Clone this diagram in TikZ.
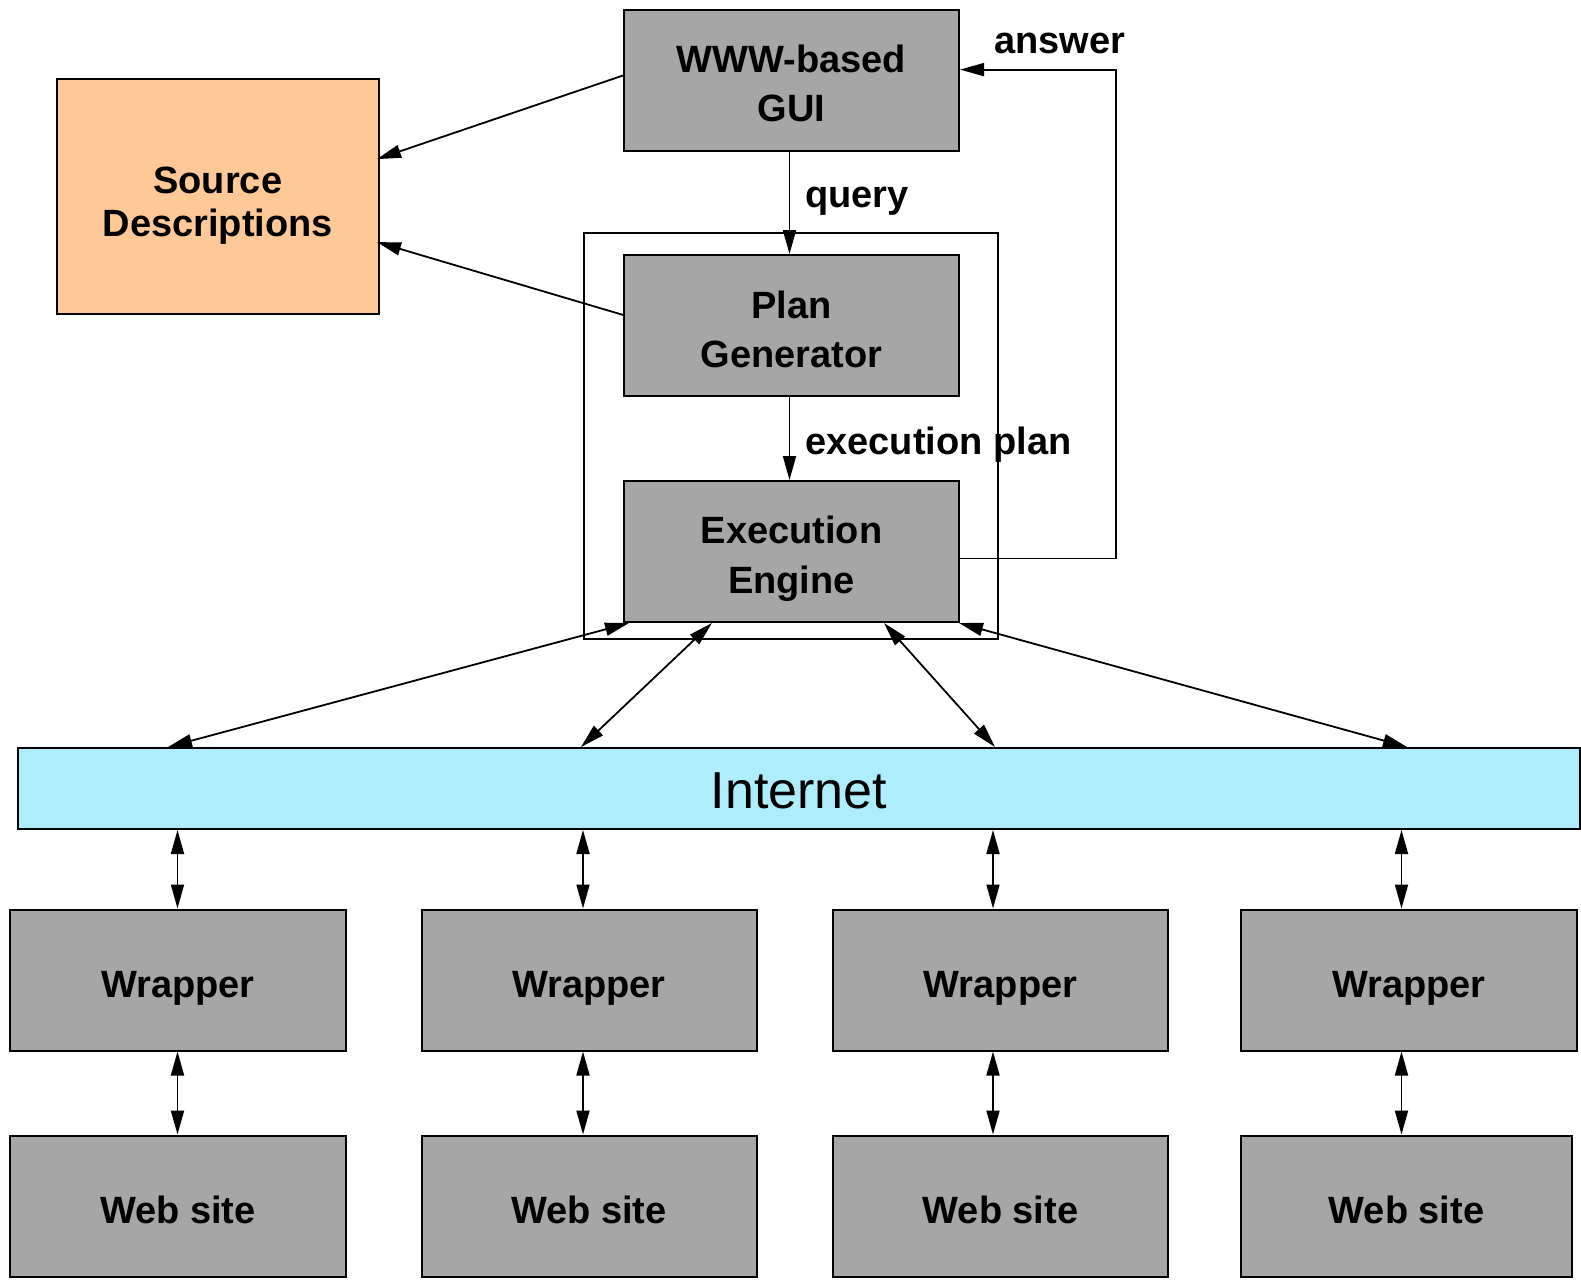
\documentclass[tikz,border=0pt]{standalone}
\usepackage{fontspec}
\setmainfont{Liberation Sans}
\usetikzlibrary{arrows.meta,calc}
\definecolor{boxgray}{RGB}{166,166,166}
\definecolor{srcorange}{RGB}{255,201,151}
\definecolor{netcyan}{RGB}{174,238,252}
\begin{document}
\begin{tikzpicture}[x=0.5pt,y=-0.5pt,
  box/.style={draw, line width=1pt, fill=boxgray, minimum width=167.5pt,
    minimum height=70.5pt, inner sep=0pt},
  txt/.style={inner sep=0pt, align=center, font=\bfseries\fontsize{19}{24.5}\selectfont},
  lbl/.style={inner sep=0pt, font=\bfseries\fontsize{19}{23}\selectfont},
  tipA/.tip={Triangle[length=12pt,width=6.5pt]},
  conn/.style={line width=0.9pt, -tipA},
  bi/.style={line width=0.9pt, tipA-tipA}]
\useasboundingbox (0,0) rectangle (1581,1280);

% engine frame around planner and executor
\node[draw, line width=1pt, minimum width=207pt, minimum height=203pt, inner sep=0pt] (frame) at (791,436) {};

% top part
\node[box, label={[txt, name=tgui, yshift=-1.3pt]center:WWW-based\\GUI}] (gui) at (791.5,80.5) {};
\node[box, fill=srcorange, minimum width=161.25pt, minimum height=117.5pt,
  label={[txt, name=tsrc, yshift=-4.8pt, font=\bfseries\fontsize{19}{21.7}\selectfont]center:Source\\Descriptions}] (src) at (217.75,196.1) {};
\node[box, label={[txt, name=tplan, yshift=-2pt]center:Plan\\Generator}] (plan) at (791.5,325.5) {};
\node[box, label={[txt, name=teng, yshift=-3.8pt, font=\bfseries\fontsize{19}{25}\selectfont]center:Execution\\Engine}] (eng) at (791.5,551.5) {};

% network bar
\node[draw, line width=1pt, fill=netcyan, minimum width=781pt, minimum height=40.5pt,
  inner sep=0pt, label={[inner sep=0pt, name=tinet, yshift=-1pt, font=\fontsize{26}{30}\selectfont]center:Internet}] (inet) at (799,788.5) {};

% wrappers and sources on the web
\foreach \n/\cx/\bw in {1/178/168, 2/589/167.5, 3/1000.5/167.5, 4/1409/168} {
  \node[box, minimum width=\bw pt, label={[txt, name=tw\n, yshift=-4pt]center:Wrapper}] (w\n) at (\cx,980) {};
}
\foreach \n/\cx/\bw in {1/178/168, 2/589/167.5, 3/1000.5/167.5, 4/1406.5/165.5} {
  \node[box, minimum width=\bw pt, label={[txt, name=ts\n, yshift=-2pt]center:Web site}] (s\n) at (\cx,1206) {};
}

% labels
\node[lbl, anchor=west] (lq) at (805,201.6) {query};
\node[lbl, anchor=west] (lp) at (805,444.6) {execution plan};
\node[lbl] (la) at (1059.5,43.3) {answer};

% control flow
\draw[conn] ($(gui.south)+(-2,0)$) -- ($(plan.north)+(-2,0)$);
\draw[conn] ($(plan.south)+(-2,0)$) -- ($(eng.north)+(-2,0)$);
\draw[conn] ($(eng.east)+(0,7)$) -| (1116,69.6) coordinate (ac) -- (ac -| gui.east);
\draw[conn] ($(gui.west)+(0,-5)$) -- ($(src.east)+(-3,-37)$);
\draw[conn] ($(plan.west)+(2,-10)$) -- ($(src.east)+(-3,46)$);

% executor to network
\draw[bi] ($(eng.south west)+(6,0)$) -- ($(inet.north west)+(151,0)$);
\draw[bi] ($(eng.south west)+(89,0)$) -- ($(inet.north west)+(564,0)$);
\draw[bi] ($(eng.south west)+(261,0)$) -- ($(inet.north west)+(978,0)$);
\draw[bi] ($(eng.south east)+(-1,0)$) -- ($(inet.north west)+(1390,0)$);

% network to wrappers to sites
\foreach \w/\s/\dx in {w1/s1/-0.5, w2/s2/-6, w3/s3/-7.5, w4/s4/-7.5} {
  \draw[bi] ($(\w.north)+(\dx,0)$) coordinate (t) -- (t |- inet.south);
  \draw[bi] ($(\w.south)+(\dx,0)$) coordinate (b) -- (b |- \s.north);
}
\end{tikzpicture}
\end{document}
